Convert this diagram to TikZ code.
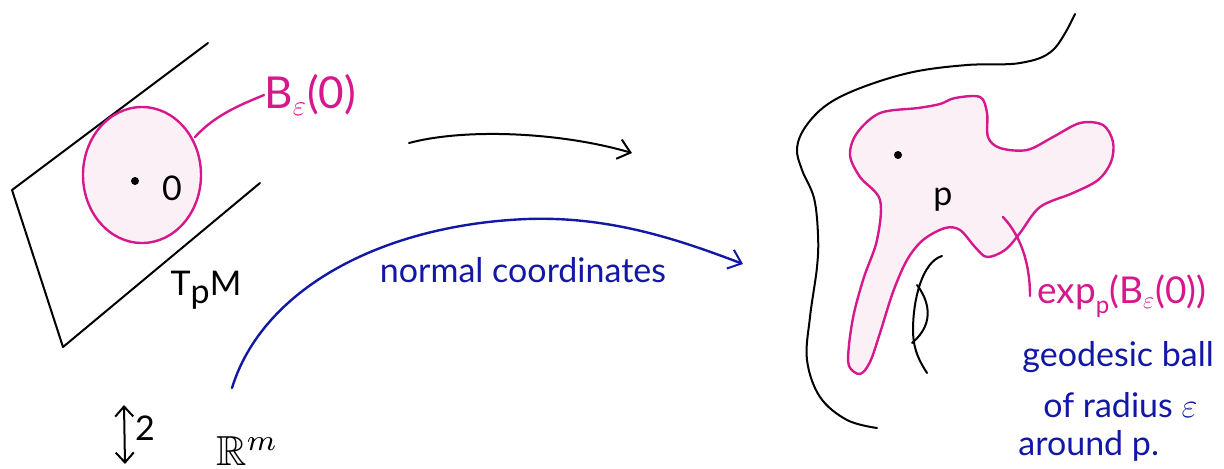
\documentclass[tikz,border=0pt]{standalone}
\usepackage{amssymb}
\usepackage{graphicx}
\usepackage{fontspec}
\setmainfont{Lato}
\usetikzlibrary{arrows.meta}
\definecolor{pinkline}{RGB}{214,24,140}
\definecolor{pinkfill}{RGB}{252,240,247}
\definecolor{navy}{RGB}{18,24,165}
\tikzset{
  blackline/.style={line width=1pt, black, line cap=round, line join=round},
  pinkpath/.style={line width=1.2pt, draw=pinkline, fill=pinkfill, line cap=round},
  pinkleader/.style={line width=1.2pt, pinkline, line cap=round},
  bluepath/.style={line width=1.2pt, navy, line cap=round},
  barb/.style={-{Straight Barb[length=6pt,width=10pt,line width=1pt]}},
  pinktext/.style={text=pinkline, inner sep=0pt, font=\fontsize{22}{25}\selectfont},
  bluetext/.style={text=navy, inner sep=0pt, font=\fontsize{17}{20}\selectfont},
  blacktext/.style={text=black, inner sep=0pt, font=\fontsize{17}{20}\selectfont},
  dotstyle/.style={circle, fill=black, inner sep=0pt, minimum size=4pt}
}
\begin{document}
\begin{tikzpicture}[x=0.5pt,y=-0.5pt]
\useasboundingbox (0,0) rectangle (1224,468);
% tangent plane
\draw[blackline] (208,43) -- (12,190) -- (63,347) -- (260,183);
% ball in tangent space
\draw[pinkpath] (142,175) ellipse [x radius=59, y radius=68];
\node[dotstyle] (o) at (135,181) {};
\node[blacktext] (olbl) at (172,188) {0};
\coordinate (bstart) at (195,137);
\node[pinktext, anchor=west] (blbl) at (264,95) {B$_{\varepsilon}$(0)};
\draw[pinkleader] (bstart) .. controls (215,115) and (240,105) .. (blbl.west);
\node[blacktext] (tpm) at (206,290) {T\lower4pt\hbox{p}M};
% black arrow
\coordinate (a1) at (409,143);
\coordinate (a2) at (632,153);
\draw[blackline, barb] (a1) .. controls (465,128) and (560,132) .. (a2);
% blue arrow
\coordinate (n1) at (232,388);
\coordinate (n2) at (527,219);
\coordinate (n3) at (743,264);
\draw[bluepath, barb] (n1) .. controls (262,290) and (380,225) .. (n2) .. controls (610,216) and (680,240) .. (n3);
\node[text=navy, inner sep=0pt, font=\fontsize{17}{20}\selectfont] (nc) at (523,270) {normal coordinates};
% bottom left
\coordinate (d1) at (124,405);
\coordinate (d2) at (125,464);
\draw[blackline, {Straight Barb[length=5pt,width=9pt,line width=1pt]}-{Straight Barb[length=5pt,width=9pt,line width=1pt]}] (d1) -- (d2);
\node[blacktext] (two) at (145,428) {2};
\node[inner sep=0pt, anchor=south west] (rm) at (216,466) {\scalebox{2.1}{$\mathbb{R}^{m}$}};
% manifold outline
\draw[blackline] plot[smooth, tension=0.6] coordinates {(1075,14) (1053,50) (1020,63) (967,65) (913,72) (863,87) (828,104) (806,126) (797,148) (802,170) (814,198) (818,235) (817,267) (810,317) (807,360) (820,397) (847,420) (877,428)};
% geodesic ball blob
\draw[pinkpath] plot[smooth cycle, tension=0.55] coordinates {(955,98) (980,97) (987,113) (988,137) (1000,148) (1027,150) (1053,137) (1080,123) (1103,125) (1113,142) (1111,162) (1098,180) (1073,193) (1040,207) (1020,233) (1005,250) (987,257) (975,247) (960,230) (945,228) (923,240) (907,260) (893,292) (880,333) (870,362) (860,374) (849,366) (849,345) (854,313) (864,277) (877,240) (880,200) (860,177) (850,155) (857,133) (880,113) (918,108) (940,104)};
\node[dotstyle] (p) at (898,155) {};
\node[blacktext] (plbl) at (943,200) {p};
% black mark
\coordinate (m1) at (942,256);
\coordinate (m2) at (927,373);
\coordinate (m3) at (917,285);
\coordinate (m4) at (912,343);
\draw[blackline] (m1) .. controls (922,262) and (913,300) .. (913,330) .. controls (913,350) and (920,362) .. (m2);
\draw[blackline] (m3) .. controls (927,298) and (937,322) .. (m4);
% exp label
\coordinate (lstart) at (1003,217);
\node[text=pinkline, inner sep=0pt, font=\fontsize{18.5}{22}\selectfont, anchor=west] (explbl) at (1037,296) {exp\lower5pt\hbox{\fontsize{12}{14}\selectfont p}(B$_{\varepsilon}$(0))};
\draw[pinkleader] (lstart) .. controls (1020,235) and (1030,262) .. (1030,296);
\node[bluetext, anchor=west] (g1) at (1022,357) {geodesic ball};
\node[bluetext, anchor=west] (g2) at (1043,405) {of radius $\varepsilon$};
\node[bluetext, anchor=west] (g3) at (1018,446) {around p.};
\end{tikzpicture}
\end{document}
